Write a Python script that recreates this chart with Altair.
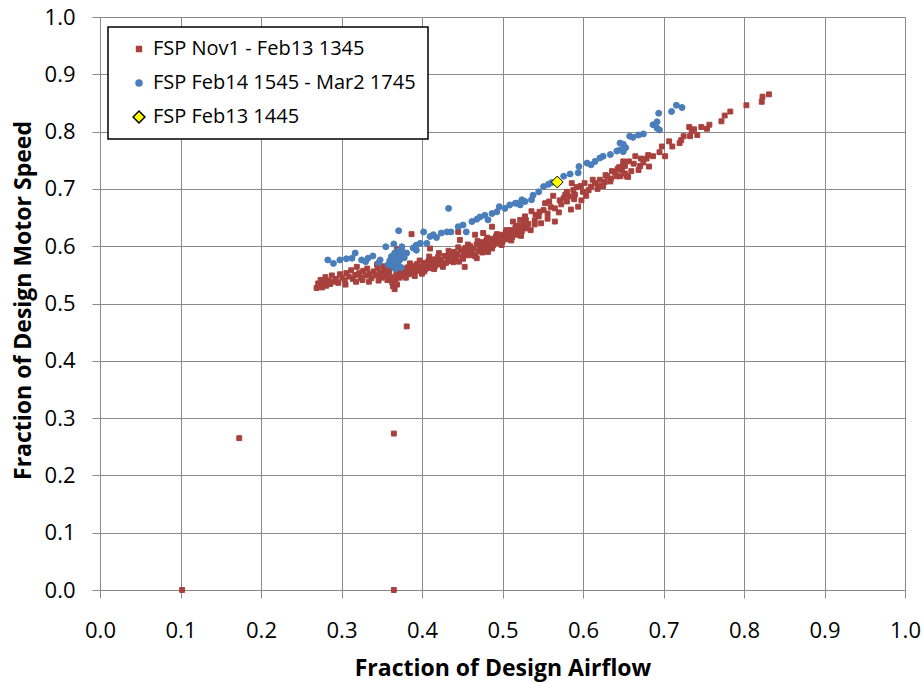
import altair as alt
import pandas as pd

# ---- data ----
red_name = "FSP Nov1 - Feb13 1345"
blue_name = "FSP Feb14 1545 - Mar2 1745"
yellow_name = "FSP Feb13 1445"

red_x = [0.102, 0.173, 0.365, 0.365, 0.381,
         0.269, 0.271, 0.273, 0.274, 0.276, 0.278, 0.280, 0.281, 0.284, 0.286,
         0.288, 0.290, 0.293, 0.296, 0.298, 0.301, 0.304, 0.306, 0.309, 0.312,
         0.314, 0.317, 0.319, 0.322, 0.324, 0.327, 0.330, 0.332, 0.335, 0.337,
         0.340, 0.343, 0.345, 0.348, 0.350, 0.353, 0.355, 0.357, 0.359, 0.361,
         0.363, 0.364, 0.366, 0.367, 0.368, 0.369, 0.370, 0.372, 0.369, 0.387,
         0.374, 0.376, 0.378, 0.380, 0.382, 0.384, 0.386, 0.388, 0.390, 0.392,
         0.394, 0.396, 0.398, 0.400, 0.402, 0.404, 0.406, 0.408, 0.410, 0.412,
         0.414, 0.416, 0.418, 0.420, 0.422, 0.424, 0.426, 0.428, 0.430, 0.432,
         0.434, 0.436, 0.438, 0.440, 0.442, 0.444, 0.446, 0.448, 0.450, 0.452,
         0.454, 0.456, 0.458, 0.460, 0.462, 0.464, 0.466, 0.468, 0.470, 0.472,
         0.474, 0.476, 0.478, 0.480, 0.482, 0.484, 0.486, 0.488, 0.490, 0.492,
         0.494, 0.496, 0.498, 0.500, 0.502, 0.504, 0.506, 0.508, 0.510, 0.512,
         0.514, 0.516, 0.518, 0.520, 0.522, 0.524, 0.526, 0.528, 0.530, 0.532,
         0.445, 0.447, 0.466, 0.487, 0.482, 0.468, 0.453, 0.476, 0.410,
         0.513, 0.522, 0.528, 0.536, 0.541, 0.551, 0.553, 0.558, 0.565, 0.565,
         0.570, 0.576, 0.580, 0.586, 0.590, 0.594, 0.598, 0.602, 0.607, 0.615,
         0.618, 0.621, 0.627, 0.634, 0.636, 0.642, 0.648, 0.650, 0.652,
         0.540, 0.545, 0.548, 0.556, 0.560, 0.573, 0.583, 0.588, 0.592, 0.600,
         0.610, 0.625, 0.630, 0.640, 0.645, 0.580, 0.585,
         0.646, 0.652, 0.656, 0.660, 0.665, 0.669, 0.671, 0.672, 0.675, 0.679,
         0.681, 0.682, 0.687, 0.695, 0.698, 0.702, 0.707, 0.711, 0.720, 0.722,
         0.725, 0.732, 0.735, 0.738, 0.733, 0.742, 0.747, 0.754, 0.757, 0.772,
         0.776, 0.783, 0.803, 0.822, 0.823, 0.831, 0.650, 0.648, 0.654,
         0.380, 0.385, 0.391, 0.397, 0.403, 0.409, 0.415, 0.421, 0.427, 0.433,
         0.439, 0.445, 0.451, 0.457, 0.463, 0.469, 0.475, 0.481, 0.487, 0.493,
         0.499, 0.505, 0.511, 0.517, 0.523, 0.529, 0.535, 0.540, 0.546, 0.556,
         0.563, 0.571, 0.578, 0.589, 0.597, 0.604, 0.612, 0.620, 0.628, 0.635,
         0.643, 0.657, 0.663,
         0.305, 0.318, 0.326, 0.334, 0.346, 0.352, 0.360, 0.344]
red_y = [0.000, 0.265, 0.000, 0.273, 0.460,
         0.527, 0.535, 0.531, 0.541, 0.528, 0.537, 0.546, 0.531, 0.540, 0.534,
         0.549, 0.538, 0.543, 0.536, 0.551, 0.545, 0.540, 0.553, 0.547, 0.558,
         0.543, 0.550, 0.564, 0.553, 0.545, 0.557, 0.549, 0.561, 0.552, 0.544,
         0.556, 0.549, 0.562, 0.553, 0.545, 0.558, 0.550, 0.541, 0.555, 0.546,
         0.537, 0.530, 0.525, 0.541, 0.550, 0.533, 0.557, 0.545, 0.595, 0.621,
         0.552, 0.560, 0.548, 0.556, 0.563, 0.551, 0.559, 0.566, 0.554, 0.561,
         0.569, 0.557, 0.564, 0.552, 0.571, 0.560, 0.567, 0.574, 0.562, 0.570,
         0.577, 0.565, 0.573, 0.581, 0.568, 0.576, 0.564, 0.583, 0.571, 0.579,
         0.586, 0.574, 0.582, 0.590, 0.578, 0.586, 0.573, 0.593, 0.581, 0.589,
         0.597, 0.584, 0.592, 0.600, 0.588, 0.596, 0.583, 0.603, 0.591, 0.599,
         0.607, 0.594, 0.602, 0.610, 0.598, 0.606, 0.613, 0.601, 0.609, 0.617,
         0.605, 0.613, 0.620, 0.608, 0.616, 0.624, 0.612, 0.620, 0.628, 0.616,
         0.624, 0.632, 0.620, 0.628, 0.636, 0.626, 0.634, 0.642, 0.631, 0.639,
         0.625, 0.611, 0.620, 0.634, 0.590, 0.579, 0.564, 0.623, 0.596,
         0.643, 0.646, 0.652, 0.661, 0.655, 0.663, 0.675, 0.678, 0.666, 0.643,
         0.659, 0.684, 0.695, 0.710, 0.690, 0.669, 0.680, 0.710, 0.698, 0.710,
         0.700, 0.716, 0.712, 0.713, 0.731, 0.722, 0.733, 0.742, 0.727,
         0.645, 0.652, 0.640, 0.657, 0.668, 0.673, 0.687, 0.698, 0.703, 0.695,
         0.704, 0.705, 0.722, 0.728, 0.738, 0.678, 0.664,
         0.722, 0.740, 0.721, 0.731, 0.757, 0.733, 0.740, 0.753, 0.746, 0.753,
         0.759, 0.739, 0.757, 0.764, 0.774, 0.757, 0.783, 0.774, 0.780, 0.785,
         0.792, 0.808, 0.801, 0.804, 0.792, 0.794, 0.808, 0.805, 0.812, 0.818,
         0.828, 0.835, 0.846, 0.852, 0.861, 0.865, 0.748, 0.733, 0.722,
         0.545, 0.570, 0.548, 0.575, 0.556, 0.582, 0.560, 0.588, 0.570, 0.592,
         0.572, 0.598, 0.578, 0.603, 0.584, 0.609, 0.589, 0.615, 0.596, 0.621,
         0.602, 0.628, 0.610, 0.636, 0.618, 0.646, 0.628, 0.638, 0.660, 0.648,
         0.688, 0.680, 0.690, 0.682, 0.705, 0.688, 0.716, 0.705, 0.724, 0.718,
         0.735, 0.748, 0.744,
         0.533, 0.538, 0.541, 0.538, 0.540, 0.565, 0.562, 0.568]

blue_x = [0.283, 0.290, 0.298, 0.306, 0.313, 0.317, 0.325, 0.330, 0.333, 0.339,
          0.346, 0.348, 0.355, 0.365, 0.371, 0.375,
          0.358, 0.360, 0.362, 0.363, 0.365, 0.366, 0.367, 0.368, 0.369, 0.370,
          0.371, 0.372, 0.373, 0.374, 0.376, 0.378, 0.381, 0.389, 0.393, 0.393,
          0.398,
          0.402, 0.406, 0.410, 0.414, 0.418, 0.424, 0.431, 0.433, 0.436, 0.445,
          0.451, 0.455, 0.462, 0.468, 0.472, 0.478, 0.482, 0.487, 0.493, 0.496,
          0.503, 0.509, 0.516, 0.522, 0.528,
          0.518, 0.524, 0.536, 0.538, 0.545, 0.551, 0.557, 0.561, 0.576, 0.584,
          0.594, 0.595, 0.605, 0.610, 0.615, 0.621, 0.625, 0.634, 0.642, 0.650,
          0.646, 0.653, 0.646, 0.650, 0.658, 0.662, 0.669, 0.675, 0.687, 0.692,
          0.692, 0.695, 0.694, 0.710, 0.716, 0.723]
blue_y = [0.576, 0.570, 0.576, 0.578, 0.579, 0.588, 0.576, 0.573, 0.579, 0.583,
          0.571, 0.576, 0.599, 0.604, 0.627, 0.599,
          0.568, 0.575, 0.582, 0.565, 0.572, 0.588, 0.560, 0.578, 0.585, 0.568,
          0.592, 0.575, 0.583, 0.563, 0.590, 0.580, 0.588, 0.597, 0.602, 0.593,
          0.605,
          0.625, 0.605, 0.617, 0.620, 0.615, 0.623, 0.625, 0.666, 0.625, 0.634,
          0.637, 0.625, 0.643, 0.647, 0.651, 0.654, 0.646, 0.657, 0.660, 0.669,
          0.666, 0.672, 0.675, 0.672, 0.678,
          0.675, 0.681, 0.681, 0.689, 0.695, 0.704, 0.708, 0.711, 0.722, 0.726,
          0.728, 0.739, 0.745, 0.742, 0.748, 0.754, 0.757, 0.760, 0.766, 0.765,
          0.768, 0.772, 0.780, 0.778, 0.792, 0.790, 0.794, 0.796, 0.812, 0.817,
          0.806, 0.803, 0.832, 0.835, 0.846, 0.842]

yellow_x = [0.568]
yellow_y = [0.712]

series_names = [red_name, blue_name, yellow_name]
series_fill = ["#A8413D", "#4A7EBB", "#FFFF00"]
series_stroke = ["#A8413D", "#4A7EBB", "#000000"]
series_shape = ["square", "circle", "diamond"]
series_size = [24, 36, 140]

df = pd.concat([
    pd.DataFrame({"x": red_x, "y": red_y, "series": red_name}),
    pd.DataFrame({"x": blue_x, "y": blue_y, "series": blue_name}),
    pd.DataFrame({"x": yellow_x, "y": yellow_y, "series": yellow_name}),
], ignore_index=True)
df["order"] = df["series"].map({n: i for i, n in enumerate(series_names)})

ticks = [round(i * 0.1, 1) for i in range(11)]
FONT = "Open Sans"
GRID = "#8a8a8a"

legend = alt.Legend(
    title=None, orient="none", legendX=8, legendY=10,
    strokeColor="black", fillColor="white", padding=12,
    labelFont=FONT, labelFontSize=20, labelColor="black",
    symbolOffset=9, labelOffset=4, rowPadding=14,
    labelLimit=400,
)

chart = alt.Chart(df).mark_point(filled=True, opacity=1, strokeWidth=1).encode(
    x=alt.X("x:Q", scale=alt.Scale(domain=[0, 1], nice=False, zero=False),
            axis=alt.Axis(values=ticks, format=".1f", title="Fraction of Design Airflow",
                          titleY=85, titleBaseline="alphabetic", labelFlush=False,
                          labelPadding=22, tickSize=8)),
    y=alt.Y("y:Q", scale=alt.Scale(domain=[0, 1], nice=False, zero=False),
            axis=alt.Axis(values=ticks, format=".1f", title="Fraction of Design Motor Speed",
                          titleX=-70, titleY=283, titleAngle=270, titleAlign="center",
                          titleBaseline="alphabetic", labelFlush=False,
                          labelPadding=17, tickSize=8)),
    color=alt.Color("series:N", scale=alt.Scale(domain=series_names, range=series_fill), legend=legend),
    stroke=alt.Stroke("series:N", scale=alt.Scale(domain=series_names, range=series_stroke), legend=legend),
    shape=alt.Shape("series:N", scale=alt.Scale(domain=series_names, range=series_shape), legend=legend),
    size=alt.Size("series:N", scale=alt.Scale(type="ordinal", domain=series_names, range=series_size), legend=legend),
    order=alt.Order("order:Q"),
).properties(
    width=805, height=573,
    autosize=alt.AutoSizeParams(type="none"),
    padding={"left": 100, "top": 17, "right": 18, "bottom": 93},
).configure_view(
    stroke=None
).configure_axis(
    gridColor=GRID, gridWidth=1, gridOpacity=1,
    domainColor=GRID, domainWidth=1,
    tickColor=GRID, tickWidth=1,
    labelFont=FONT, labelFontSize=22, labelColor="black",
    titleFont=FONT, titleFontSize=23, titleFontWeight="bold", titleColor="black",
).configure_legend(
    strokeWidth=1.5,
)

chart.save("out.html", embed_options={"renderer": "svg", "actions": False})
